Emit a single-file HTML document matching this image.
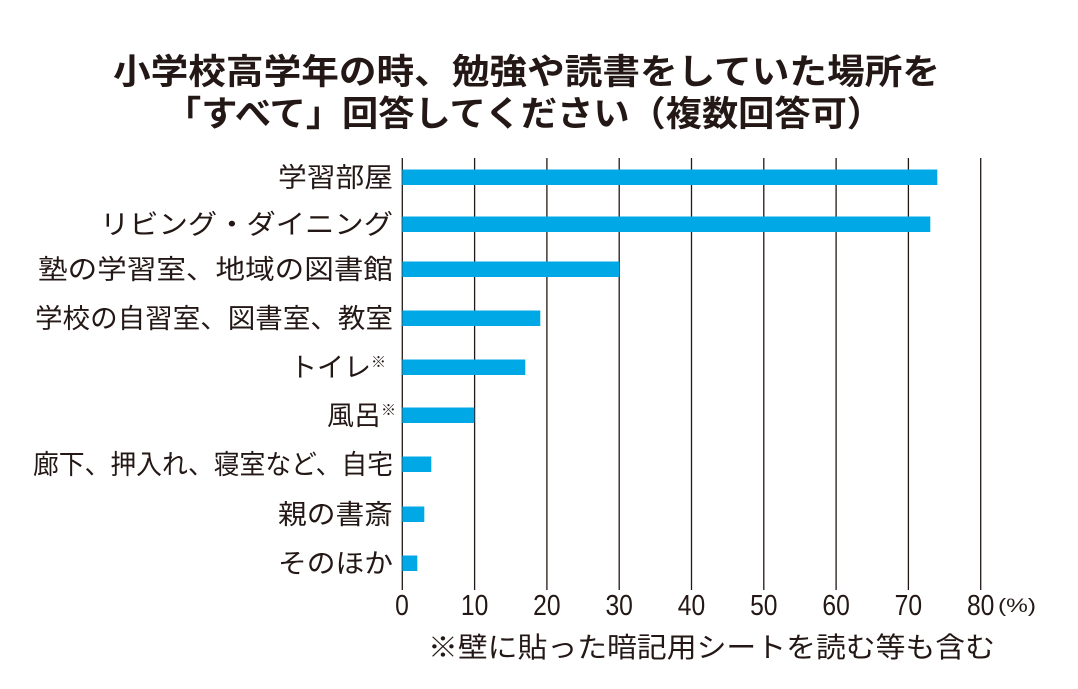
<!DOCTYPE html><html><head><meta charset="utf-8"><style>
body{margin:0;background:#fff;}
svg text{font-family:"Liberation Sans","Noto Sans CJK JP",sans-serif;fill:#231815}
</style></head><body>
<svg width="1078" height="684" xmlns="http://www.w3.org/2000/svg">
<text x="113" y="84" font-size="35" font-weight="bold" textLength="827" lengthAdjust="spacingAndGlyphs">小学校高学年の時、勉強や読書をしていた場所を</text>
<text x="165" y="126" font-size="35" font-weight="bold" textLength="718" lengthAdjust="spacingAndGlyphs">「すべて」回答してください（複数回答可）</text>
<g stroke="#231815" stroke-width="1.3">
<line x1="402.3" y1="158" x2="402.3" y2="590"/><line x1="474.6" y1="158" x2="474.6" y2="590"/><line x1="546.9" y1="158" x2="546.9" y2="590"/><line x1="619.2" y1="158" x2="619.2" y2="590"/><line x1="691.5" y1="158" x2="691.5" y2="590"/><line x1="763.8" y1="158" x2="763.8" y2="590"/><line x1="836.1" y1="158" x2="836.1" y2="590"/><line x1="908.4" y1="158" x2="908.4" y2="590"/><line x1="980.7" y1="158" x2="980.7" y2="590"/>
</g>
<g fill="#00a9e6">
<rect x="402.3" y="169.5" width="535" height="15.5"/>
<rect x="402.3" y="216.5" width="528" height="15.5"/>
<rect x="402.3" y="261.5" width="217" height="15.5"/>
<rect x="402.3" y="310.5" width="138" height="15.5"/>
<rect x="402.3" y="359.5" width="123" height="15.5"/>
<rect x="402.3" y="407.5" width="72" height="15.5"/>
<rect x="402.3" y="456.5" width="29" height="15.5"/>
<rect x="402.3" y="506.5" width="22" height="15.5"/>
<rect x="402.3" y="555.5" width="15" height="15.5"/>
</g>
<g font-size="27" lengthAdjust="spacingAndGlyphs">
<text x="278" y="187" textLength="115" lengthAdjust="spacingAndGlyphs">学習部屋</text>
<text x="100" y="234" textLength="293" lengthAdjust="spacingAndGlyphs">リビング・ダイニング</text>
<text x="38" y="279" textLength="355" lengthAdjust="spacingAndGlyphs">塾の学習室、地域の図書館</text>
<text x="35" y="328" textLength="358" lengthAdjust="spacingAndGlyphs">学校の自習室、図書室、教室</text>
<text x="290" y="377">トイレ<tspan font-size="15" dy="-10">※</tspan></text>
<text x="327" y="425">風呂<tspan font-size="15" dy="-10">※</tspan></text>
<text x="33" y="474" textLength="360" lengthAdjust="spacingAndGlyphs">廊下、押入れ、寝室など、自宅</text>
<text x="278" y="524" textLength="115" lengthAdjust="spacingAndGlyphs">親の書斎</text>
<text x="278" y="573" textLength="115" lengthAdjust="spacingAndGlyphs">そのほか</text>
</g>
<g font-size="29" text-anchor="middle">
<text x="402" y="615" transform="translate(402 0) scale(0.85 1) translate(-402 0)">0</text>
<text x="474.6" y="615" transform="translate(474.6 0) scale(0.85 1) translate(-474.6 0)">10</text>
<text x="546.9" y="615" transform="translate(546.9 0) scale(0.85 1) translate(-546.9 0)">20</text>
<text x="619.2" y="615" transform="translate(619.2 0) scale(0.85 1) translate(-619.2 0)">30</text>
<text x="691.5" y="615" transform="translate(691.5 0) scale(0.85 1) translate(-691.5 0)">40</text>
<text x="763.8" y="615" transform="translate(763.8 0) scale(0.85 1) translate(-763.8 0)">50</text>
<text x="836.1" y="615" transform="translate(836.1 0) scale(0.85 1) translate(-836.1 0)">60</text>
<text x="908.4" y="615" transform="translate(908.4 0) scale(0.85 1) translate(-908.4 0)">70</text>
<text x="980.7" y="615" transform="translate(980.7 0) scale(0.85 1) translate(-980.7 0)">80</text>
</g>
<text x="998" y="612" font-size="19" textLength="38" lengthAdjust="spacingAndGlyphs">(%)</text>
<text x="428" y="657" font-size="28" textLength="567" lengthAdjust="spacingAndGlyphs">※壁に貼った暗記用シートを読む等も含む</text>
</svg>
</body></html>
